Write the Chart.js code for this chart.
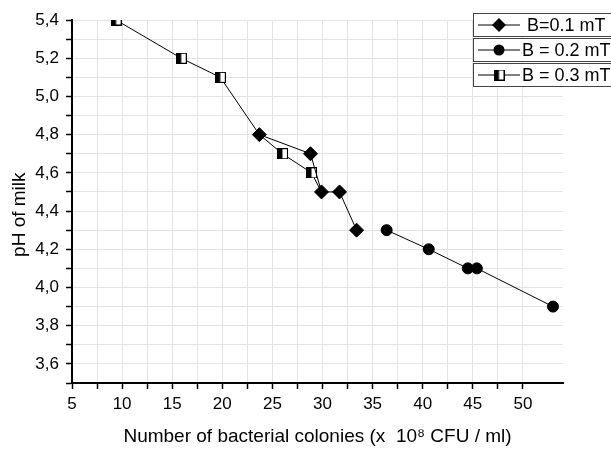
<!DOCTYPE html>
<html>
<head>
<meta charset="utf-8">
<script src="https://cdn.jsdelivr.net/npm/chart.js@4"></script>
<style>
  html, body { margin: 0; padding: 0; background: #fff; }
  #wrap { width: 611px; height: 449px; }
</style>
</head>
<body>
<div id="wrap"><canvas id="phChart" width="611" height="449"></canvas></div>
<script>
const seriesNames = ['B=0.1 mT', 'B = 0.2 mT', 'B = 0.3 mT'];

const b1X = [23.7, 28.8, 29.9, 31.7, 33.4];
const b1Y = [4.8, 4.7, 4.5, 4.5, 4.3];

const b2X = [36.4, 40.6, 44.5, 45.4, 53.0];
const b2Y = [4.3, 4.2, 4.1, 4.1, 3.9];

const b3X = [9.4, 15.9, 19.8, 23.7, 26.0, 28.9, 29.9];
const b3Y = [5.4, 5.2, 5.1, 4.8, 4.7, 4.6, 4.5];

const xTickStep = 2.5;
const yTickStep = 0.1;

const FONT = "'Liberation Sans', Arial, sans-serif";

// half filled square marker
function halfSquare(size) {
  const c = document.createElement('canvas');
  c.width = size; c.height = size;
  const g = c.getContext('2d');
  g.fillStyle = '#fff';
  g.fillRect(0, 0, size, size);
  g.fillStyle = '#000';
  g.fillRect(0, 0, size / 2, size);
  g.strokeStyle = '#000';
  g.lineWidth = 1;
  g.strokeRect(0.5, 0.5, size - 1, size - 1);
  return c;
}
const squareImg = halfSquare(11);

const toPts = (xs, ys) => xs.map((x, i) => ({ x: x, y: ys[i] }));

const legendBoxes = {
  id: 'legendBoxes',
  afterDraw(chart) {
    const ctx = chart.ctx;
    const styles = [
      { pointStyle: 'rectRot', radius: 7, rotation: 0 },
      { pointStyle: 'circle', radius: 5.5, rotation: 0 },
      { pointStyle: squareImg, radius: 5, rotation: 0 }
    ];
    const tops = [13, 38, 63];
    ctx.save();
    seriesNames.forEach((name, i) => {
      const y0 = tops[i];
      ctx.strokeStyle = '#444';
      ctx.lineWidth = 1;
      ctx.fillStyle = '#fff';
      ctx.fillRect(473.5, y0 + 0.5, 140, 23);
      ctx.strokeRect(473.5, y0 + 0.5, 140, 23);
      const cy = y0 + 12;
      ctx.beginPath();
      ctx.strokeStyle = '#000';
      ctx.moveTo(478, cy);
      ctx.lineTo(520, cy);
      ctx.stroke();
      ctx.fillStyle = '#000';
      ctx.strokeStyle = '#000';
      Chart.helpers.drawPoint(ctx, styles[i], 499, cy);
      ctx.fillStyle = '#000';
      ctx.font = '18px ' + FONT;
      ctx.textBaseline = 'middle';
      ctx.fillText(name, i === 0 ? 527 : 522, cy + 1);
    });
    ctx.restore();
  }
};

new Chart(document.getElementById('phChart'), {
  type: 'line',
  data: {
    datasets: [
      {
        label: seriesNames[0],
        data: toPts(b1X, b1Y),
        borderColor: '#000',
        backgroundColor: '#000',
        borderWidth: 1,
        pointStyle: 'rectRot',
        pointRadius: 7,
        pointBorderWidth: 1,
        order: 0
      },
      {
        label: seriesNames[1],
        data: toPts(b2X, b2Y),
        borderColor: '#000',
        backgroundColor: '#000',
        borderWidth: 1,
        pointStyle: 'circle',
        pointRadius: 5.5,
        pointBorderWidth: 1,
        order: 1
      },
      {
        label: seriesNames[2],
        data: toPts(b3X, b3Y),
        borderColor: '#000',
        backgroundColor: '#000',
        borderWidth: 1,
        pointStyle: c => b1X.includes(b3X[c.dataIndex]) ? false : squareImg,
        pointRadius: 5,
        order: 2
      }
    ]
  },
  options: {
    responsive: false,
    animation: false,
    layout: { padding: { top: 20, right: 48, left: 0, bottom: 0 } },
    plugins: {
      legend: { display: false },
      tooltip: { enabled: false }
    },
    scales: {
      x: {
        type: 'linear',
        min: 5,
        max: 54,
        afterFit: s => { s.height = 66; },
        afterBuildTicks: s => {
          s.ticks = s.ticks.filter(t => Math.abs(t.value / xTickStep - Math.round(t.value / xTickStep)) < 1e-6);
        },
        ticks: {
          stepSize: xTickStep,
          autoSkip: false,
          maxRotation: 0,
          color: '#000',
          padding: 5,
          font: { family: FONT, size: 17 },
          callback: v => (Math.abs(v % 5) < 1e-6 ? String(v) : '')
        },
        grid: {
          color: '#e3e3e3',
          tickColor: '#000',
          tickLength: 6,
          tickWidth: 1.5
        },
        border: { color: '#000', width: 2 },
        title: {
          display: true,
          text: 'Number of bacterial colonies (x  10⁸ CFU / ml)',
          color: '#000',
          font: { family: FONT, size: 19 },
          padding: { top: 1, bottom: 1 }
        }
      },
      y: {
        type: 'linear',
        min: 3.5,
        max: 5.4,
        afterFit: s => { s.width = 72; },
        afterBuildTicks: s => {
          s.ticks = s.ticks.filter(t => Math.abs(t.value * 10 - Math.round(t.value * 10)) < 1e-6);
        },
        ticks: {
          stepSize: yTickStep,
          autoSkip: false,
          color: '#000',
          padding: 7,
          font: { family: FONT, size: 17 },
          callback: v => (Math.round(v * 10) % 2 === 0 ? v.toFixed(1).replace('.', ',') : '')
        },
        grid: {
          color: '#e3e3e3',
          tickColor: '#000',
          tickLength: 6,
          tickWidth: 1.5
        },
        border: { color: '#000', width: 2 },
        title: {
          display: true,
          text: 'pH of milk     ',
          color: '#000',
          font: { family: FONT, size: 19 },
          padding: { top: 8, bottom: 2 }
        }
      }
    }
  },
  plugins: [legendBoxes]
});
</script>
</body>
</html>
